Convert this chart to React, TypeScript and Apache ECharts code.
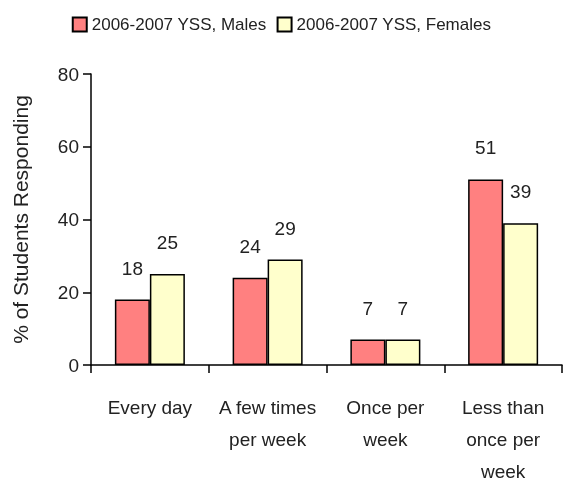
import React, { useEffect, useRef } from "react";
import * as echarts from "echarts";

const categories = ["Every day", "A few times\nper week", "Once per\nweek", "Less than\nonce per\nweek"];
const males = [18, 24, 7, 51];
const females = [25, 29, 7, 39];
const yTicks = { min: 0, max: 80, interval: 20 };

const FONT = "'Liberation Sans', Arial, sans-serif";

export default function App() {
  const ref = useRef<HTMLDivElement>(null);
  useEffect(() => {
    if (!ref.current) return;
    const chart = echarts.init(ref.current, null, { renderer: "svg" });
    const label = {
      show: true,
      position: "top" as const,
      distance: 22,
      color: "#222",
      fontSize: 19,
      fontFamily: FONT,
    };
    chart.setOption({
      animation: false,
      textStyle: { fontFamily: FONT },
      legend: {
        top: 11,
        left: "center",
        itemWidth: 14,
        itemHeight: 14,
        itemGap: 10,
        icon: "rect",
        textStyle: { fontSize: 17, color: "#222", fontFamily: FONT },
        data: ["2006-2007 YSS, Males", "2006-2007 YSS, Females"],
      },
      grid: { left: 91, right: 1, top: 74, bottom: 119 },
      xAxis: {
        type: "category",
        data: categories,
        axisLine: { lineStyle: { color: "#000", width: 1.5 } },
        axisTick: { show: true, length: 8, lineStyle: { color: "#000", width: 1.5 } },
        axisLabel: { color: "#222", fontSize: 19, fontFamily: FONT, margin: 26, lineHeight: 32, interval: 0 },
      },
      yAxis: {
        type: "value",
        min: yTicks.min,
        max: yTicks.max,
        interval: yTicks.interval,
        name: "% of Students Responding",
        nameLocation: "middle",
        nameGap: 60,
        nameTextStyle: { fontSize: 21, color: "#222", fontFamily: FONT },
        splitLine: { show: false },
        axisLine: { show: true, lineStyle: { color: "#000", width: 1.5 } },
        axisTick: { show: true, length: 8, lineStyle: { color: "#000", width: 1.5 } },
        axisLabel: { color: "#222", fontSize: 19, fontFamily: FONT, margin: 12 },
      },
      series: [
        {
          name: "2006-2007 YSS, Males",
          type: "bar",
          data: males,
          barWidth: 35,
          barGap: "0%",
          itemStyle: { color: "#FF8080", borderColor: "#000", borderWidth: 1.5 },
          label,
        },
        {
          name: "2006-2007 YSS, Females",
          type: "bar",
          data: females,
          barWidth: 35,
          itemStyle: { color: "#FFFFCC", borderColor: "#000", borderWidth: 1.5 },
          label,
        },
      ],
    });
    return () => chart.dispose();
  }, []);
  return <div ref={ref} style={{ position: "fixed", left: 0, top: 0, width: 563, height: 487 }} />;
}
